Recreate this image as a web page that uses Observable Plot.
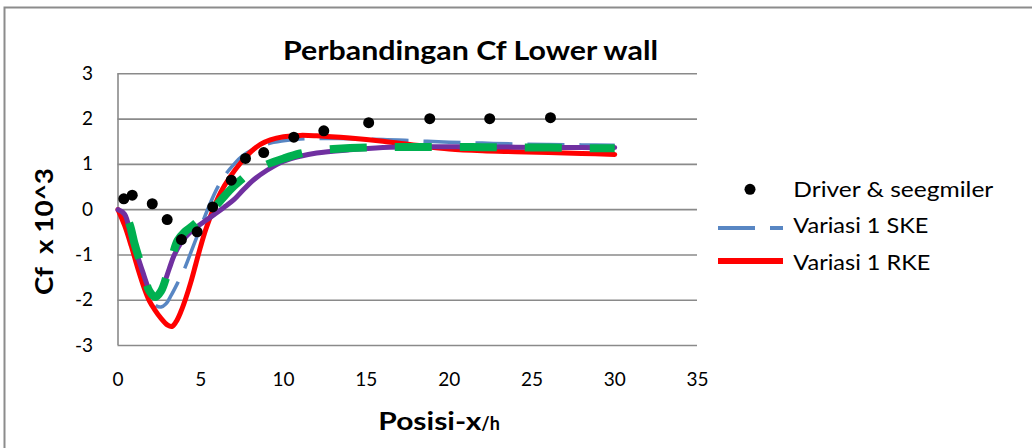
<!DOCTYPE html>
<html><head><meta charset="utf-8">
<script src="https://cdn.jsdelivr.net/npm/d3@7"></script>
<script src="https://cdn.jsdelivr.net/npm/@observablehq/plot@0.6"></script>
<style>
html,body{margin:0;padding:0;background:#fff;}
#chart{position:relative;width:1032px;height:448px;overflow:hidden;}
</style></head><body><div id="chart"></div>
<script>
// ---- data ----
const xTicks = [0, 5, 10, 15, 20, 25, 30, 35];
const yTicks = [-3, -2, -1, 0, 1, 2, 3];

const titleText = "Perbandingan Cf Lower wall";
const xLabelMain = "Posisi-x";
const xLabelSub = "/h";
const yLabelText = "Cf  x 10^3";

const seriesNames = ["Driver & seegmiler", "Variasi 1 SKE", "Variasi 1 RKE"];

// Driver & Seegmiller experiment (dots)
const dsX = [0.35, 0.86, 2.07, 2.97, 3.83, 4.78, 5.72, 6.84, 7.70, 8.80, 10.62, 12.43, 15.14, 18.83, 22.45, 26.12];
const dsY = [0.24, 0.32, 0.13, -0.22, -0.66, -0.49, 0.06, 0.65, 1.13, 1.26, 1.60, 1.74, 1.92, 2.01, 2.01, 2.03];

// Variasi 1 SKE (blue dashed)
const skeX = [0, 0.4, 0.8, 1.2, 1.6, 2.0, 2.3, 2.6, 2.9, 3.2, 3.6, 4.0, 4.5, 5.0, 5.5, 6.0, 6.5, 7.0, 7.5, 8.0, 9.0, 10.0, 11.0, 12.0, 13.0, 14.0, 16.0, 18.0, 20.0, 22.0, 24.0, 26.0, 28.0, 30.0];
const skeY = [0, -0.2, -0.7, -1.25, -1.7, -2.0, -2.12, -2.15, -2.08, -1.9, -1.62, -1.32, -0.85, -0.38, 0.08, 0.48, 0.78, 1.0, 1.18, 1.3, 1.45, 1.52, 1.56, 1.57, 1.57, 1.565, 1.55, 1.52, 1.49, 1.47, 1.45, 1.44, 1.43, 1.42];

// Variasi 1 RKE (red solid)
const rkeX = [0, 0.4, 0.8, 1.2, 1.6, 1.9, 2.2, 2.6, 3.0, 3.25, 3.5, 3.8, 4.1, 4.4, 4.7, 5.0, 5.3, 5.7, 6.2, 6.8, 7.4, 8.0, 8.6, 9.2, 10.0, 11.0, 12.0, 14.0, 16.0, 18.0, 20.0, 22.0, 24.0, 26.0, 28.0, 30.0];
const rkeY = [0, -0.35, -0.8, -1.3, -1.75, -2.02, -2.2, -2.4, -2.55, -2.58, -2.48, -2.25, -1.95, -1.6, -1.2, -0.8, -0.44, -0.04, 0.38, 0.74, 1.03, 1.27, 1.44, 1.54, 1.61, 1.64, 1.63, 1.58, 1.51, 1.42, 1.34, 1.30, 1.28, 1.26, 1.24, 1.22];

// Series 4 (purple solid, not in legend)
const s4X = [0, 0.4, 0.8, 1.2, 1.5, 1.8, 2.05, 2.3, 2.55, 2.8, 3.1, 3.4, 3.8, 4.3, 4.8, 5.3, 5.8, 6.4, 7.0, 7.6, 8.2, 9.0, 10.0, 11.0, 12.0, 14.0, 16.0, 18.0, 20.0, 22.0, 24.0, 26.0, 28.0, 30.0];
const s4Y = [0, -0.1, -0.6, -1.05, -1.38, -1.7, -1.9, -1.95, -1.85, -1.62, -1.3, -1.0, -0.73, -0.52, -0.37, -0.24, -0.11, 0.05, 0.22, 0.45, 0.66, 0.87, 1.07, 1.18, 1.25, 1.32, 1.37, 1.39, 1.39, 1.385, 1.38, 1.375, 1.37, 1.37];

// Series 5 (green thick dashed, not in legend)
const s5X = [0, 0.4, 0.7, 1.0, 1.3, 1.6, 1.9, 2.25, 2.6, 2.95, 3.3, 3.6, 4.0, 4.5, 5.0, 5.5, 6.0, 6.5, 7.0, 7.5, 8.0, 9.0, 10.0, 11.0, 12.0, 13.0, 14.0, 16.0, 18.0, 20.0, 22.0, 24.0, 26.0, 28.0, 30.0];
const s5Y = [0, -0.1, -0.32, -0.75, -1.12, -1.5, -1.8, -1.93, -1.8, -1.45, -1.0, -0.68, -0.5, -0.36, -0.2, -0.05, 0.12, 0.33, 0.52, 0.68, 0.83, 1.0, 1.13, 1.24, 1.31, 1.34, 1.36, 1.38, 1.385, 1.385, 1.38, 1.375, 1.37, 1.36, 1.355];

// ---- build tables ----
const toRows = (xs, ys) => xs.map((x, i) => ({x, y: ys[i]}));
const ds = toRows(dsX, dsY);
const ske = toRows(skeX, skeY);
const rke = toRows(rkeX, rkeY);
const s4 = toRows(s4X, s4Y);
const s5 = toRows(s5X, s5Y);

const colors = {ds: "#000000", ske: "#5886C3", rke: "#FF0000", s4: "#7030A0", s5: "#00B050"};
const gridColor = "#8A8A8A";
const FONT = "Lato, 'Noto Sans', sans-serif";
const fmt = d => String(d);

const plot = Plot.plot({
  width: 1032,
  height: 448,
  marginLeft: 117.5,
  marginRight: 335,
  marginTop: 73.3,
  marginBottom: 103,
  style: {fontFamily: FONT, fontSize: "19px", color: "#000", background: "#fff", overflow: "visible"},
  x: {domain: [0, 35], ticks: xTicks, label: null},
  y: {domain: [-3, 3], ticks: yTicks, label: null},
  marks: [
    Plot.gridY(yTicks, {stroke: gridColor, strokeOpacity: 1, strokeWidth: 1.6}),
    Plot.ruleX([0], {y1: -3, y2: 3, stroke: gridColor, strokeOpacity: 1, strokeWidth: 1.6}),
    Plot.axisX(xTicks, {tickSize: 0, tickPadding: 27, label: null, fontSize: 19, fill: "#000", tickFormat: fmt}),
    Plot.axisY(yTicks, {tickSize: 0, tickPadding: 25, label: null, fontSize: 19, fill: "#000", tickFormat: fmt}),
    Plot.line(ske, {x: "x", y: "y", stroke: colors.ske, strokeWidth: 3.5, strokeDasharray: "37,15", strokeLinecap: "butt", curve: "catmull-rom"}),
    Plot.line(rke, {x: "x", y: "y", stroke: colors.rke, strokeWidth: 5, curve: "catmull-rom"}),
    Plot.line(s4, {x: "x", y: "y", stroke: colors.s4, strokeWidth: 5, curve: "catmull-rom"}),
    Plot.line(s5, {x: "x", y: "y", stroke: colors.s5, strokeWidth: 8, strokeDasharray: "37,28", strokeDashoffset: 47, strokeLinecap: "butt", curve: "catmull-rom"}),
    Plot.dot(ds, {x: "x", y: "y", r: 5.5, fill: colors.ds, stroke: "none"})
  ]
});

document.getElementById("chart").appendChild(plot);

// ---- overlay: border, title, axis titles, legend ----
const svg = d3.select(plot);

svg.append("rect")
  .attr("x", 4.5).attr("y", 7.5).attr("width", 1100).attr("height", 500)
  .attr("fill", "none").attr("stroke", "#8C8C8C").attr("stroke-width", 2);

svg.append("text")
  .attr("x", 470.5).attr("y", 59.5)
  .attr("text-anchor", "middle")
  .attr("font-family", FONT).attr("font-weight", "bold").attr("font-size", 26)
  .attr("textLength", 375).attr("lengthAdjust", "spacingAndGlyphs")
  .attr("fill", "#000")
  .text(titleText);

const xl = svg.append("text")
  .attr("x", 378.3).attr("y", 430)
  .attr("text-anchor", "start")
  .attr("font-family", FONT).attr("font-weight", "bold").attr("fill", "#000");
xl.append("tspan").attr("font-size", 24).attr("textLength", 103).attr("lengthAdjust", "spacingAndGlyphs").text(xLabelMain);
xl.append("tspan").attr("font-size", 18).text(xLabelSub);

svg.append("text")
  .attr("transform", "translate(53,231.5) rotate(-90)")
  .attr("text-anchor", "middle")
  .attr("font-family", FONT).attr("font-weight", "bold").attr("font-size", 25)
  .attr("textLength", 127).attr("lengthAdjust", "spacingAndGlyphs")
  .attr("fill", "#000")
  .style("white-space", "pre")
  .text(yLabelText);

// legend
const lg = svg.append("g").attr("font-family", FONT).attr("font-size", 22).attr("fill", "#000").attr("text-anchor", "start");
lg.append("circle").attr("cx", 750).attr("cy", 189.3).attr("r", 5.5).attr("fill", colors.ds);
lg.append("line").attr("x1", 718).attr("x2", 783).attr("y1", 228).attr("y2", 228)
  .attr("stroke", colors.ske).attr("stroke-width", 4).attr("stroke-dasharray", "37,15");
lg.append("line").attr("x1", 718).attr("x2", 783).attr("y1", 261).attr("y2", 261)
  .attr("stroke", colors.rke).attr("stroke-width", 6);
const lens = [200, 135, 137];
const bases = [196.7, 233.3, 270];
seriesNames.forEach((n, i) => {
  lg.append("text").attr("x", 793.3).attr("y", bases[i])
    .attr("text-anchor", "start")
    .attr("textLength", lens[i]).attr("lengthAdjust", "spacingAndGlyphs")
    .text(n);
});
</script></body></html>
